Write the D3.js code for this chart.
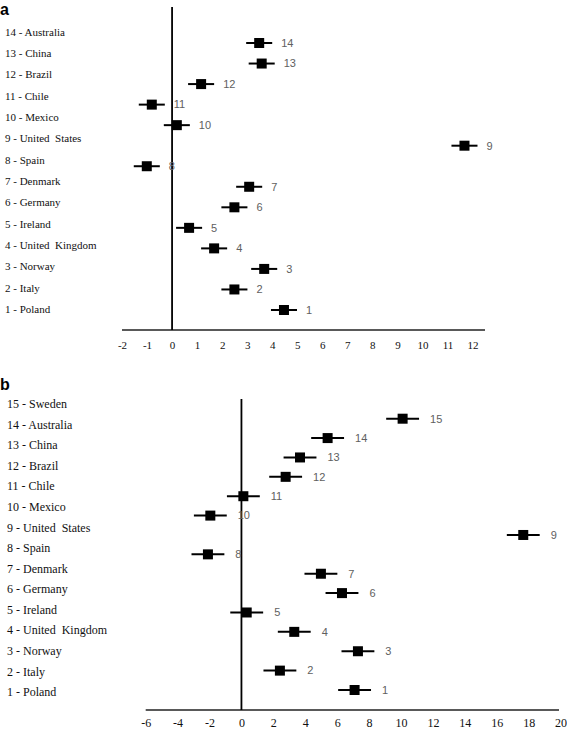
<!DOCTYPE html>
<html><head><meta charset="utf-8">
<script src="https://cdn.jsdelivr.net/npm/d3@7"></script>
<style>body{margin:0;background:#fff}svg{display:block}
.serif{font-family:"Liberation Serif","Times New Roman",serif}
.sans{font-family:"Liberation Sans",Arial,sans-serif}
</style>
</head><body>
<svg id="c" width="567" height="730"></svg>
<script>
// Panel a data (top to bottom)
const idsA = [14,13,12,11,10,9,8,7,6,5,4,3,2,1];
const namesA = ["Australia","China","Brazil","Chile","Mexico","United  States","Spain","Denmark","Germany","Ireland","United  Kingdom","Norway","Italy","Poland"];
const estA = [3.48,3.58,1.16,-0.81,0.19,11.68,-1.01,3.08,2.49,0.68,1.68,3.68,2.49,4.47];
const loA  = [2.96,3.06,0.64,-1.33,-0.33,11.16,-1.53,2.56,1.97,0.16,1.16,3.16,1.97,3.95];
const hiA  = [4.00,4.10,1.68,-0.29,0.71,12.20,-0.49,3.60,3.01,1.20,2.20,4.20,3.01,4.99];
const ticksA = [-2,-1,0,1,2,3,4,5,6,7,8,9,10,11,12];

// Panel b data (top to bottom)
const idsB = [15,14,13,12,11,10,9,8,7,6,5,4,3,2,1];
const namesB = ["Sweden","Australia","China","Brazil","Chile","Mexico","United  States","Spain","Denmark","Germany","Ireland","United  Kingdom","Norway","Italy","Poland"];
const estB = [10.10,5.40,3.67,2.77,0.12,-1.95,17.66,-2.10,4.98,6.30,0.33,3.31,7.30,2.41,7.09];
const loB  = [9.07,4.37,2.64,1.74,-0.91,-2.98,16.63,-3.13,3.95,5.27,-0.70,2.28,6.27,1.38,6.06];
const hiB  = [11.13,6.43,4.70,3.80,1.15,-0.92,18.69,-1.07,6.01,7.33,1.36,4.34,8.33,3.44,8.12];
const ticksB = [-6,-4,-2,0,2,4,6,8,10,12,14,16,18,20];

const svg = d3.select("#c");

function panel(cfg){
  const g = svg.append("g");
  const x = d3.scaleLinear().domain(cfg.xDomain).range(cfg.xRange);
  const yM = d3.scalePoint().domain(cfg.ids).range(cfg.markRange);
  const yL = d3.scalePoint().domain(cfg.ids).range(cfg.labRange);
  const data = cfg.ids.map((id,i)=>({id, name:cfg.names[i], est:cfg.est[i], lo:cfg.lo[i], hi:cfg.hi[i]}));

  // panel letter
  g.append("text").attr("class","sans").attr("x",0).attr("y",cfg.letterY)
    .attr("font-weight","bold").attr("font-size",16).text(cfg.letter);

  // category labels
  g.selectAll("text.cat").data(data).join("text").attr("class","cat serif")
    .attr("x",cfg.labX).attr("y",d=>yL(d.id)).attr("dy","0.35em")
    .attr("font-size",cfg.labSize).attr("fill","#111")
    .style("white-space","pre")
    .text(d=>d.id+" - "+d.name);

  // axis
  const axis = d3.axisBottom(x).tickValues(cfg.ticks).tickSize(0).tickPadding(cfg.tickPad).tickFormat(d=>String(d));
  const ag = g.append("g").attr("transform",`translate(0,${cfg.axisY})`).call(axis);
  ag.attr("font-family",null).attr("font-size",null);
  ag.select(".domain").remove();
  ag.append("line").attr("x1",cfg.axisX[0]).attr("x2",cfg.axisX[1]).attr("stroke","#222").attr("stroke-width",1.5);
  ag.selectAll(".tick text").attr("class","serif")
    .attr("font-size",cfg.tickSize).attr("fill","#111");

  // zero line
  g.append("line").attr("x1",x(0)).attr("x2",x(0)).attr("y1",cfg.zeroTop).attr("y2",cfg.axisY)
    .attr("stroke","#000").attr("stroke-width",1.8);

  // error bars
  g.selectAll("line.err").data(data).join("line").attr("class","err")
    .attr("x1",d=>x(d.lo)).attr("x2",d=>x(d.hi))
    .attr("y1",d=>yM(d.id)).attr("y2",d=>yM(d.id))
    .attr("stroke","#000").attr("stroke-width",2);
  // markers
  const s = cfg.mSize;
  g.selectAll("rect.m").data(data).join("rect").attr("class","m")
    .attr("x",d=>x(d.est)-s/2).attr("y",d=>yM(d.id)-s/2)
    .attr("width",s).attr("height",s).attr("fill","#000");
  // value labels
  g.selectAll("text.v").data(data).join("text").attr("class","v sans")
    .attr("x",d=>x(d.hi)+cfg.vGap).attr("y",d=>yM(d.id)).attr("dy","0.35em")
    .attr("font-size",11).attr("fill","#606060").text(d=>d.id);
}

panel({letter:"a", letterY:15, ids:idsA, names:namesA, est:estA, lo:loA, hi:hiA, ticks:ticksA,
  xDomain:[-2,12.5], xRange:[122,485], axisX:[122,485], axisY:330, zeroTop:7,
  markRange:[43,310], labRange:[32,309], labX:5, labSize:11, tickSize:11, tickPad:11,
  mSize:10, vGap:9});

panel({letter:"b", letterY:390, ids:idsB, names:namesB, est:estB, lo:loB, hi:hiB, ticks:ticksB,
  xDomain:[-6,20], xRange:[145.7,560.6], axisX:[145.7,559], axisY:710, zeroTop:399,
  markRange:[418.7,690], labRange:[404,692], labX:7, labSize:12, tickSize:12, tickPad:8,
  mSize:10, vGap:11});
</script>
</body></html>
